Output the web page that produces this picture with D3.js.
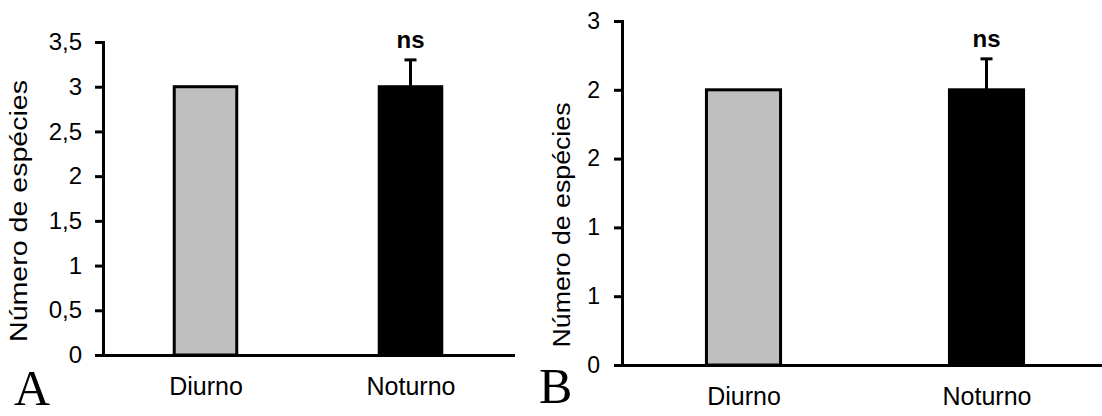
<!DOCTYPE html>
<html>
<head>
<meta charset="utf-8">
<script src="https://cdn.jsdelivr.net/npm/d3@7"></script>
<style>
  body { margin: 0; background: #fff; }
  svg { display: block; }
  text { fill: #000; }
</style>
</head>
<body>
<svg id="chart" width="1102" height="416"></svg>
<script>
// data
var categories = ["Diurno", "Noturno"];
var barColors = ["#bfbfbf", "#000000"];
var signif = ["", "ns"];

var meansA = [3, 3];
var errorsA = [0, 0.3];
var ticksA = [0, 0.5, 1, 1.5, 2, 2.5, 3, 3.5];
var tickLabelsA = ["0", "0,5", "1", "1,5", "2", "2,5", "3", "3,5"];

var meansB = [2.4, 2.4];
var errorsB = [0, 0.27];
var ticksB = [0, 0.6, 1.2, 1.8, 2.4, 3];
var tickLabelsB = ["0", "1", "1", "2", "2", "3"];

var yTitle = "Número de espécies";

var sans = '"Liberation Sans", Arial, sans-serif';
var serif = '"Liberation Serif", "Times New Roman", serif';

var svg = d3.select("#chart");

function drawPanel(p) {
  var g = svg.append("g");

  var x = d3.scalePoint().domain(categories).range([p.left, p.right]).padding(0.5);
  var y = d3.scaleLinear().domain([0, d3.max(p.ticks)]).range([p.bottom, p.top]);
  var bw = x.step() * 0.305;

  var data = categories.map(function(c, i) {
    return {cat: c, mean: p.means[i], err: p.errors[i], color: barColors[i], sig: signif[i]};
  });

  // bars
  g.selectAll("rect.bar")
    .data(data)
    .enter().append("rect")
      .attr("class", "bar")
      .attr("x", function(d) { return x(d.cat) - bw / 2; })
      .attr("y", function(d) { return y(d.mean); })
      .attr("width", bw)
      .attr("height", function(d) { return y(0) - y(d.mean); })
      .attr("fill", function(d) { return d.color; })
      .attr("stroke", "#000")
      .attr("stroke-width", 3);

  // error bars (only upper half, like the original)
  var eb = data.filter(function(d) { return d.err > 0; });
  g.selectAll("line.stem")
    .data(eb)
    .enter().append("line")
      .attr("x1", function(d) { return x(d.cat); })
      .attr("x2", function(d) { return x(d.cat); })
      .attr("y1", function(d) { return y(d.mean); })
      .attr("y2", function(d) { return y(d.mean + d.err); })
      .attr("stroke", "#000")
      .attr("stroke-width", 3);
  g.selectAll("line.cap")
    .data(eb)
    .enter().append("line")
      .attr("x1", function(d) { return x(d.cat) - 6; })
      .attr("x2", function(d) { return x(d.cat) + 6; })
      .attr("y1", function(d) { return y(d.mean + d.err); })
      .attr("y2", function(d) { return y(d.mean + d.err); })
      .attr("stroke", "#000")
      .attr("stroke-width", 3);

  g.selectAll("text.sig")
    .data(data.filter(function(d) { return d.sig; }))
    .enter().append("text")
      .attr("x", function(d) { return x(d.cat); })
      .attr("y", function(d) { return y(d.mean + d.err) - 12; })
      .attr("text-anchor", "middle")
      .attr("font-weight", "bold")
      .attr("font-size", 24)
      .text(function(d) { return d.sig; });

  // axes
  var yAxis = g.append("g")
      .attr("transform", "translate(" + p.left + ",0)")
      .call(d3.axisLeft(y)
        .tickValues(p.ticks)
        .tickFormat(function(d, i) { return p.tickLabels[i]; })
        .tickSize(8).tickSizeOuter(0).tickPadding(p.tickPad));
  yAxis.selectAll("text").attr("font-size", p.tickFont).attr("fill", "#000");

  var xAxis = g.append("g")
      .attr("transform", "translate(0," + p.bottom + ")")
      .call(d3.axisBottom(x).tickSize(0).tickSizeOuter(0).tickPadding(22));
  xAxis.selectAll("text").attr("font-size", 25).attr("fill", "#000");

  g.selectAll(".domain, .tick line").attr("stroke", "#000").attr("stroke-width", 3);
  g.selectAll(".domain").attr("stroke-linecap", "square");

  // y title
  g.append("text")
    .attr("transform", "translate(" + p.titleX + "," + p.titleY + ") rotate(-90)")
    .attr("text-anchor", "middle")
    .attr("font-size", 23)
    .attr("textLength", p.titleLen)
    .attr("lengthAdjust", "spacingAndGlyphs")
    .text(yTitle);

  g.selectAll("text").style("font-family", sans);

  // panel letter
  g.append("text")
    .attr("x", p.letterX)
    .attr("y", p.letterY)
    .attr("font-size", 50)
    .style("font-family", serif)
    .text(p.letter);
}

drawPanel({
  left: 103, right: 513, top: 42, bottom: 355,
  means: meansA, errors: errorsA, ticks: ticksA, tickLabels: tickLabelsA,
  tickPad: 13, tickFont: 24,
  titleX: 27, titleY: 211, titleLen: 262,
  letter: "A", letterX: 14, letterY: 405
});

drawPanel({
  left: 622, right: 1108, top: 21, bottom: 365,
  means: meansB, errors: errorsB, ticks: ticksB, tickLabels: tickLabelsB,
  tickPad: 14, tickFont: 23,
  titleX: 570, titleY: 225, titleLen: 245,
  letter: "B", letterX: 539, letterY: 403
});
</script>
</body>
</html>
